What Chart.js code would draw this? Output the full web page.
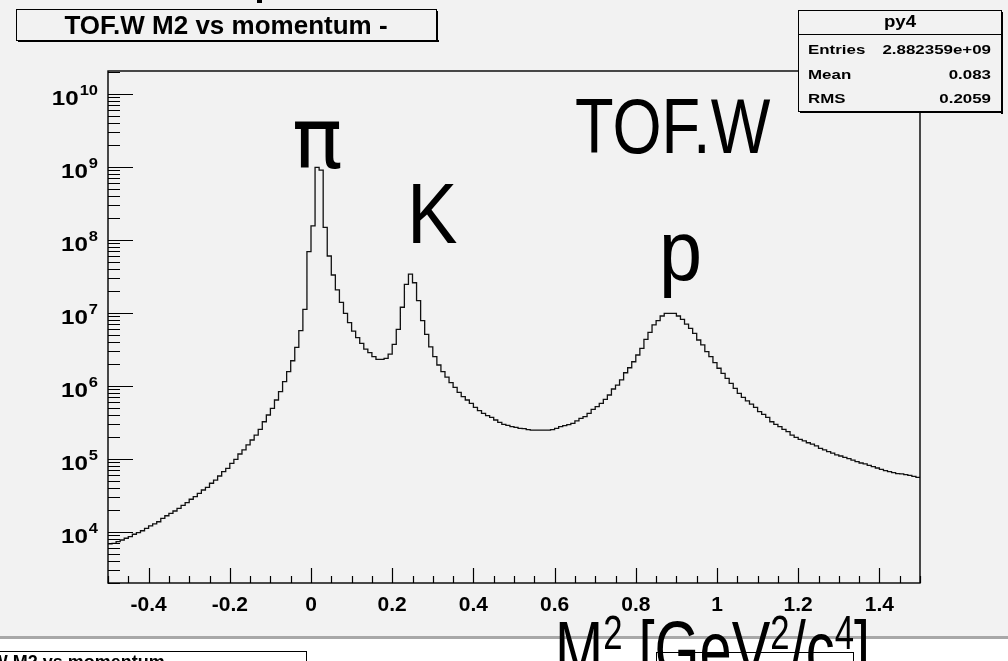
<!DOCTYPE html>
<html><head><meta charset="utf-8">
<script src="https://cdn.jsdelivr.net/npm/chart.js@4.4.0/dist/chart.umd.min.js"></script>
<style>html,body{margin:0;padding:0;background:#f2f2f2;overflow:hidden}canvas{display:block}</style>
</head><body>
<canvas id="c" width="1008" height="661"></canvas>
<script>
// ---- data ----
const xMin = -0.5, xMax = 1.5, binWidth = 0.01;
const yMin = 2000, yMax = 2.07e10;
const counts = [
 6.9e3, 7.0e3, 7.36e3, 7.76e3, 8.2e3, 8.63e3, 9.31e3, 9.77e3, 1.04e4, 1.12e4,
 1.21e4, 1.29e4, 1.38e4, 1.54e4, 1.67e4, 1.8e4, 1.94e4, 2.11e4, 2.32e4, 2.52e4,
 2.81e4, 3.05e4, 3.39e4, 3.76e4, 4.09e4, 4.65e4, 5.15e4, 5.85e4, 6.7e4, 7.46e4,
 8.73e4, 9.91e4, 1.17e5, 1.33e5, 1.56e5, 1.82e5, 2.13e5, 2.55e5, 3.24e5, 4.01e5,
 4.95e5, 6.43e5, 8.36e5, 1.15e6, 1.57e6, 2.22e6, 3.39e6, 5.73e6, 1.12e7, 6.92e7,
 1.56e8, 9.9e8, 9.1e8, 1.49e8, 6.04e7, 3.32e7, 2.07e7, 1.4e7, 9.9e6, 7.38e6,
 5.66e6, 4.59e6, 3.85e6, 3.21e6, 2.86e6, 2.52e6, 2.32e6, 2.32e6, 2.39e6, 2.74e6,
 3.72e6, 5.97e6, 1.2e7, 2.47e7, 3.42e7, 2.6e7, 1.48e7, 7.85e6, 5.11e6, 3.43e6,
 2.52e6, 1.94e6, 1.57e6, 1.32e6, 1.11e6, 9.6e5, 8.2e5, 7.14e5, 6.43e5, 5.79e5,
 5.11e5, 4.59e5, 4.23e5, 3.93e5, 3.72e5, 3.42e5, 3.18e5, 2.99e5, 2.89e5, 2.77e5,
 2.72e5, 2.63e5, 2.6e5, 2.52e5, 2.49e5, 2.49e5, 2.49e5, 2.49e5, 2.49e5, 2.52e5,
 2.63e5, 2.77e5, 2.86e5, 2.95e5, 3.08e5, 3.32e5, 3.61e5, 3.8e5, 4.23e5, 4.79e5,
 5.21e5, 5.79e5, 6.56e5, 7.53e5, 9.1e5, 1.03e6, 1.21e6, 1.52e6, 1.78e6, 2.15e6,
 2.66e6, 3.28e6, 4.36e6, 5.43e6, 6.86e6, 7.85e6, 9.1e6, 9.91e6, 9.91e6, 9.91e6,
 9.1e6, 8.18e6, 7.06e6, 6.17e6, 5.26e6, 4.27e6, 3.65e6, 2.95e6, 2.52e6, 2.09e6,
 1.75e6, 1.49e6, 1.27e6, 1.09e6, 9.29e5, 7.94e5, 7.0e5, 6.24e5, 5.66e5, 5.11e5,
 4.45e5, 4.09e5, 3.72e5, 3.24e5, 2.99e5, 2.77e5, 2.55e5, 2.37e5, 2.13e5, 1.98e5,
 1.86e5, 1.77e5, 1.67e5, 1.6e5, 1.51e5, 1.4e5, 1.33e5, 1.26e5, 1.2e5, 1.14e5,
 1.1e5, 1.05e5, 1.01e5, 9.68e4, 9.18e4, 8.81e4, 8.55e4, 8.18e4, 7.85e4, 7.53e4,
 7.21e4, 6.92e4, 6.7e4, 6.5e4, 6.3e4, 6.24e4, 6.1e4, 5.97e4, 5.79e4, 5.61e4
];
const xTickValues = [-0.4, -0.2, 0, 0.2, 0.4, 0.6, 0.8, 1, 1.2, 1.4];
const xTickLabels = ['-0.4', '-0.2', '0', '0.2', '0.4', '0.6', '0.8', '1', '1.2', '1.4'];
const xMinorStep = 0.05;
const yDecades = [4, 5, 6, 7, 8, 9, 10];
const histTitle = 'TOF.W M2 vs momentum -';
const statsName = 'py4';
const statsLabels = ['Entries', 'Mean', 'RMS'];
const statsValues = ['2.882359e+09', '0.083', '0.2059'];
const peakNames = ['π', 'K', 'p'];
const detectorName = 'TOF.W';

// ---- build histogram outline points (left bin edges + closing edge) ----
const points = counts.map((c, i) => ({ x: xMin + i * binWidth, y: c }));
points.push({ x: xMax, y: counts[counts.length - 1] });

const FF = "'Liberation Sans', Arial, sans-serif";

function txt(ctx, s, x, y, font, align, sx) {
  ctx.save();
  ctx.translate(x, y);
  ctx.scale(sx || 1, 1);
  ctx.font = font;
  ctx.textAlign = align || 'left';
  ctx.textBaseline = 'alphabetic';
  ctx.fillText(s, 0, 0);
  ctx.restore();
}

const decor = {
  id: 'decor',
  beforeDraw(chart) {
    const ctx = chart.ctx;
    ctx.save();
    ctx.fillStyle = '#f2f2f2';
    ctx.fillRect(0, 0, 1008, 637);
    ctx.fillStyle = '#ffffff';
    ctx.fillRect(0, 637, 1008, 24);
    ctx.fillStyle = '#a8a8a8';
    ctx.fillRect(0, 636, 1008, 3);
    ctx.restore();
  },
  afterDatasetsDraw(chart) {
    const ctx = chart.ctx;
    const xs = chart.scales.x, ys = chart.scales.y;
    const L = xs.left, R = xs.right, T = ys.top, B = ys.bottom;
    ctx.save();
    ctx.strokeStyle = '#000';
    ctx.fillStyle = '#000';
    // frame
    ctx.lineWidth = 1.4;
    ctx.strokeRect(L, T, R - L, B - T);
    // y ticks
    ctx.lineWidth = 1.2;
    ctx.beginPath();
    for (let e = 3; e <= 10; e++) {
      for (let m = 1; m <= 9; m++) {
        const v = m * Math.pow(10, e);
        if (v < yMin || v > yMax) continue;
        const py = Math.round(ys.getPixelForValue(v)) + 0.5;
        const len = (m === 1) ? 25 : 12;
        ctx.moveTo(L, py); ctx.lineTo(L + len, py);
      }
    }
    // x ticks
    for (let k = 0; ; k++) {
      const v = xMin + k * xMinorStep;
      if (v > xMax + 1e-9) break;
      const px = Math.round(xs.getPixelForValue(v)) + 0.5;
      const major = xTickValues.some(t => Math.abs(t - v) < 1e-6);
      const len = major ? 15 : 7;
      ctx.moveTo(px, B); ctx.lineTo(px, B - len);
    }
    ctx.stroke();
    // x labels
    xTickValues.forEach((v, i) => {
      txt(ctx, xTickLabels[i], xs.getPixelForValue(v), B + 28, 'bold 20px ' + FF, 'center', 1.05);
    });
    // y labels
    yDecades.forEach(e => {
      const py = ys.getPixelForValue(Math.pow(10, e));
      ctx.font = 'bold 15px ' + FF;
      const es = String(e);
      const ew = ctx.measureText(es).width * 1.1;
      txt(ctx, es, 98 - ew, py + 1, 'bold 15px ' + FF, 'left', 1.1);
      txt(ctx, '10', 98 - ew - 1, py + 11, 'bold 21px ' + FF, 'right', 1.15);
    });
    ctx.restore();
  },
  afterDraw(chart) {
    const ctx = chart.ctx;
    ctx.save();
    ctx.fillStyle = '#000';
    ctx.strokeStyle = '#000';
    // title box
    ctx.fillStyle = '#f2f2f2';
    ctx.fillRect(16, 9, 421, 32);
    ctx.fillStyle = '#000';
    ctx.fillRect(18, 40, 421, 2);
    ctx.fillRect(436, 11, 2, 31);
    ctx.lineWidth = 1;
    ctx.strokeRect(16.5, 9.5, 420, 31);
    txt(ctx, histTitle, 226, 34, 'bold 26px ' + FF, 'center', 1.0);
    // stats box
    ctx.fillStyle = '#f2f2f2';
    ctx.fillRect(798, 10, 204, 102);
    ctx.fillStyle = '#000';
    ctx.fillRect(1001, 12, 2, 102);
    ctx.fillRect(800, 111, 203, 2);
    ctx.strokeRect(798.5, 10.5, 203, 101);
    ctx.beginPath(); ctx.moveTo(798, 34.5); ctx.lineTo(1002, 34.5); ctx.stroke();
    txt(ctx, statsName, 900, 27, 'bold 17px ' + FF, 'center', 1.1);
    const rowY = [54, 79, 103];
    statsLabels.forEach((s, i) => {
      txt(ctx, s, 808, rowY[i], 'bold 13px ' + FF, 'left', 1.3);
      txt(ctx, statsValues[i], 991, rowY[i], 'bold 13px ' + FF, 'right', 1.3);
    });
    // big annotation labels
    txt(ctx, peakNames[0], 292, 168, "84px 'DejaVu Sans', sans-serif", 'left', 1.0);
    txt(ctx, peakNames[1], 407, 243, '86px ' + FF, 'left', 0.88);
    txt(ctx, peakNames[2], 659, 280, '86px ' + FF, 'left', 0.9);
    txt(ctx, detectorName, 575, 153, '77px ' + FF, 'left', 0.82);
    // lower pad remnants
    ctx.lineWidth = 1;
    ctx.strokeRect(656.5, 652.5, 197, 20);
    ctx.strokeRect(-10.5, 651.5, 317, 30);
    ctx.font = 'bold 18px ' + FF;
    const pre = ctx.measureText('TOF.').width + ctx.measureText('W').width * 0.55;
    txt(ctx, histTitle, -pre, 668, 'bold 18px ' + FF, 'left', 1.0);
    ctx.fillRect(257, 0, 5, 3);
    // axis title with superscripts
    const big = '80px ' + FF, sup = '48px ' + FF;
    const parts = [['M', big, 0], ['2', sup, -28], [' [GeV', big, 0], ['2', sup, -28], ['/c', big, 0], ['4', sup, -28], [']', big, 0]];
    let w = 0;
    parts.forEach(p => { ctx.font = p[1]; w += ctx.measureText(p[0]).width; });
    const sx = 315 / w;
    ctx.save();
    ctx.translate(555, 677);
    ctx.scale(sx, 1);
    let cx = 0;
    parts.forEach(p => {
      ctx.font = p[1];
      ctx.textAlign = 'left';
      ctx.fillText(p[0], cx, p[2]);
      cx += ctx.measureText(p[0]).width;
    });
    ctx.restore();
    ctx.restore();
  }
};

new Chart(document.getElementById('c'), {
  type: 'line',
  data: {
    datasets: [{
      data: points,
      stepped: true,
      borderColor: '#111',
      borderWidth: 1.3,
      pointRadius: 0,
      fill: false,
      tension: 0
    }]
  },
  options: {
    responsive: false,
    devicePixelRatio: 1,
    animation: false,
    events: [],
    parsing: true,
    layout: { padding: { left: 108, right: 88, top: 71, bottom: 78 } },
    plugins: { legend: { display: false }, tooltip: { enabled: false }, title: { display: false } },
    scales: {
      x: { type: 'linear', min: xMin, max: xMax, display: false },
      y: { type: 'logarithmic', min: yMin, max: yMax, display: false }
    }
  },
  plugins: [decor]
});
</script>
</body></html>
